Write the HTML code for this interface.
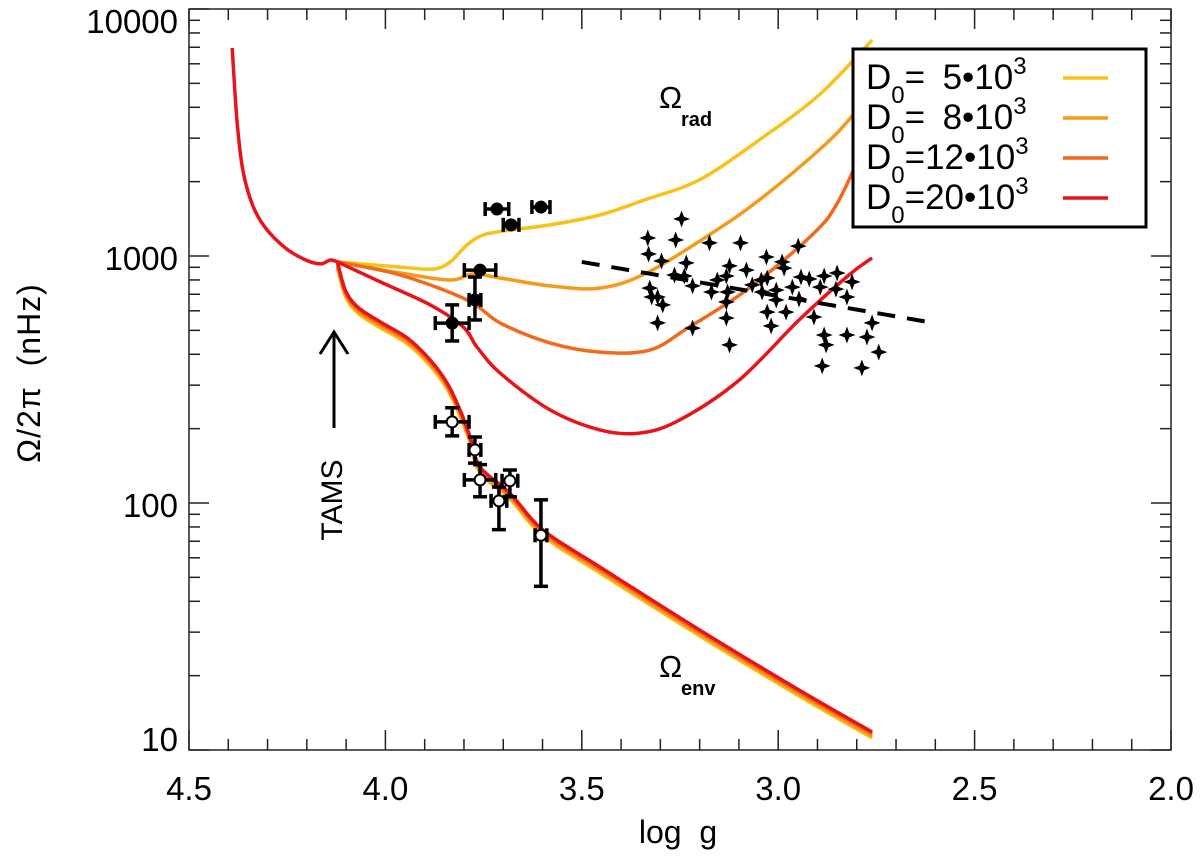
<!DOCTYPE html>
<html><head><meta charset="utf-8"><style>
html,body{margin:0;padding:0;background:#fff;}
svg text{font-family:"Liberation Sans",sans-serif;fill:#000;}
</style></head>
<body>
<svg id="chart" width="1200" height="856" viewBox="0 0 1200 856" xmlns="http://www.w3.org/2000/svg">
<g id="curves"></g>
<g id="points"></g>
<g id="axes"></g>
<text x="40" y="373" font-size="32" text-anchor="middle" letter-spacing="1" style="white-space:pre" transform="rotate(-90 40 373)">Ω/2π  (nHz)</text>
<text x="678" y="843" font-size="32" text-anchor="middle" style="white-space:pre">log  g</text>
<g><text x="659" y="108" font-size="31">Ω</text><text x="681" y="126" font-size="20" font-weight="bold">rad</text></g>
<g><text x="659" y="677" font-size="31">Ω</text><text x="681" y="695" font-size="20" font-weight="bold">env</text></g>
<g>
<line x1="334" y1="428" x2="334" y2="332" stroke="#000" stroke-width="3"/>
<polyline points="320,354 334,332 348,354" fill="none" stroke="#000" stroke-width="3"/>
<text x="342" y="500" font-size="30" text-anchor="middle" transform="rotate(-90 342 500)">TAMS</text>
</g>
<g id="legend">
<rect x="853" y="49" width="293" height="178" fill="#fff" stroke="#000" stroke-width="3"/>
</g>
</svg>
<script>
const NS='http://www.w3.org/2000/svg';
// ---------- data ----------
const xTicksMajor=[4.5,4.0,3.5,3.0,2.5,2.0];
const xTickLabels=['4.5','4.0','3.5','3.0','2.5','2.0'];
const yTicksMajor=[10,100,1000,10000];
const yTickLabels=['10','100','1000','10000'];
const seriesNames=['D0=5e3','D0=8e3','D0=12e3','D0=20e3'];
const seriesColors=['#f5c31a','#f69a1c','#f2691c','#e8141a'];
const legendCoef=['5','8','12','20'];
// common pre-TAMS track (log g, log10 Omega[nHz])
const commonLogg=[4.39,4.378,4.363,4.338,4.305,4.254,4.203,4.165,4.14,4.122];
const commonLogO=[3.842,3.551,3.348,3.206,3.113,3.032,2.984,2.968,2.984,2.976];
// envelope branch
const envLogg=[4.122,4.102,4.071,4.013,3.944,3.886,3.843,3.810,3.784,3.759,3.683,3.599,3.454,3.2,2.947,2.761];
const envLogO=[2.976,2.862,2.794,2.733,2.668,2.579,2.486,2.377,2.267,2.146,2.040,1.891,1.741,1.486,1.243,1.073];
// radiative core branches
const radLogg0=[4.122,3.962,3.878,3.835,3.792,3.751,3.683,3.581,3.454,3.340,3.201,3.048,2.896,2.761];
const radLogO0=[2.976,2.955,2.947,2.976,3.045,3.085,3.105,3.126,3.166,3.227,3.308,3.470,3.652,3.874];
const radLogg1=[4.122,3.962,3.835,3.777,3.708,3.581,3.454,3.335,3.168,3.048,2.896,2.820,2.761];
const radLogO1=[2.976,2.931,2.903,2.927,2.911,2.879,2.870,2.931,3.093,3.227,3.429,3.551,3.680];
const radLogg2=[4.122,3.962,3.792,3.708,3.581,3.454,3.327,3.226,3.081,2.914,2.845,2.761];
const radLogO2=[2.976,2.923,2.822,2.729,2.648,2.611,2.619,2.713,2.862,3.085,3.227,3.518];
const radLogg3=[4.122,4.013,3.886,3.802,3.767,3.708,3.581,3.454,3.353,3.251,3.099,2.947,2.820,2.761];
const radLogO3=[2.976,2.895,2.802,2.713,2.632,2.526,2.377,2.296,2.283,2.336,2.498,2.741,2.923,2.992];
// filled core points: logg, Omega, xerr, Omega low, Omega high
const coreLogg=[3.716,3.680,3.604,3.759,3.830,3.772];
const coreOmega=[1549,1337,1578,877,535,664];
const coreXerr=[0.030,0.020,0.023,0.040,0.043,0.015];
const coreLo=[1549,1337,1578,877,453,551];
const coreHi=[1549,1337,1578,877,634,822];
// open envelope points
const envPtLogg=[3.830,3.772,3.759,3.683,3.711,3.604];
const envPtOmega=[213,164,124,123,102,74];
const envPtXerr=[0.043,0.015,0.040,0.020,0.020,0.015];
const envPtLo=[187,145,106,106,78,46];
const envPtHi=[243,185,143,136,116,103];
// red giant stars
const starLogg=[3.246,3.332,3.261,3.175,3.096,2.949,3.330,3.297,3.234,3.030,2.990,3.124,3.081,2.985,3.264,3.239,3.132,3.028,2.942,2.883,2.850,2.921,3.218,3.155,3.066,3.043,2.964,2.893,2.812,3.327,3.170,3.129,3.005,2.853,3.322,3.307,3.041,3.005,2.947,2.825,3.294,3.132,3.028,2.980,2.909,3.307,3.132,3.218,3.018,2.761,2.883,2.825,2.774,2.878,3.124,2.744,2.888,2.787];
const starLogO=[3.150,3.073,3.065,3.053,3.053,3.040,3.008,2.980,2.972,2.996,2.976,2.960,2.943,2.951,2.923,2.919,2.919,2.911,2.915,2.919,2.931,2.907,2.879,2.903,2.883,2.903,2.874,2.874,2.895,2.870,2.854,2.854,2.862,2.866,2.834,2.834,2.854,2.822,2.826,2.834,2.802,2.814,2.773,2.773,2.753,2.729,2.749,2.708,2.717,2.729,2.680,2.680,2.672,2.640,2.640,2.611,2.555,2.547];
// dashed fit line
const fitLogg=[3.5,2.604];
const fitLogO=[2.976,2.729];

// ---------- axes functions ----------
const X0=189,X1=1171,YB=750,YT=9,DEC=247;
const xs=g=>X0+(4.5-g)/2.5*(X1-X0);
const ysL=l=>YB-(l-1)*DEC;
const ys=v=>ysL(Math.log10(v));
function el(tag,attrs,parent){const e=document.createElementNS(NS,tag);for(const k in attrs)e.setAttribute(k,attrs[k]);parent.appendChild(e);return e;}
const curves=document.getElementById('curves'),pts=document.getElementById('points'),axes=document.getElementById('axes'),legend=document.getElementById('legend');
function smooth(gs,ls){const p=gs.map((g,i)=>[xs(g),ysL(ls[i])]);let d='M'+p[0][0].toFixed(1)+','+p[0][1].toFixed(1);
 for(let i=0;i<p.length-1;i++){const p0=p[i-1]||p[i],p1=p[i],p2=p[i+1],p3=p[i+2]||p2;
 d+=' C'+(p1[0]+(p2[0]-p0[0])/6).toFixed(1)+','+(p1[1]+(p2[1]-p0[1])/6).toFixed(1)+' '+(p2[0]-(p3[0]-p1[0])/6).toFixed(1)+','+(p2[1]-(p3[1]-p1[1])/6).toFixed(1)+' '+p2[0].toFixed(1)+','+p2[1].toFixed(1);}
 return d;}

// curves
const radG=[radLogg0,radLogg1,radLogg2,radLogg3],radL=[radLogO0,radLogO1,radLogO2,radLogO3];
for(let i=0;i<4;i++){
 const pe=el('path',{d:smooth(envLogg,envLogO),fill:'none',stroke:seriesColors[i],'stroke-width':3.5,transform:'translate(0,'+(3-i)*2+')'},curves);
 
 
}
for(let i=0;i<4;i++){
 const pr=el('path',{d:smooth(radG[i],radL[i]),fill:'none',stroke:seriesColors[i],'stroke-width':3.5},curves);
 
 
}
const pc=el('path',{d:smooth(commonLogg,commonLogO),fill:'none',stroke:seriesColors[3],'stroke-width':3.5},curves);



// fit line
const fl=el('line',{x1:xs(fitLogg[0]),y1:ysL(fitLogO[0]),x2:xs(fitLogg[1]),y2:ysL(fitLogO[1]),stroke:'#000','stroke-width':4,'stroke-dasharray':'18,12'},pts);



// stars
for(let i=0;i<starLogg.length;i++){
 const cx=xs(starLogg[i]),cy=ysL(starLogO[i]),r=8.5,s=2.3;
 const st=el('path',{d:`M${cx},${cy-r} L${cx+s},${cy-s} L${cx+r},${cy} L${cx+s},${cy+s} L${cx},${cy+r} L${cx-s},${cy+s} L${cx-r},${cy} L${cx-s},${cy-s} Z`,fill:'#000'},pts);
 
 
}
function errPoint(g,o,xe,lo,hi,filled,name){
 const grp=el('g',{},pts);
 
 
 const cx=xs(g),cy=ys(o),x1=xs(g+xe),x2=xs(g-xe),ya=ys(hi),yb=ys(lo);
 el('line',{x1:x1,y1:cy,x2:x2,y2:cy,stroke:'#000','stroke-width':3.5},grp);
 el('line',{x1:x1,y1:cy-7,x2:x1,y2:cy+7,stroke:'#000','stroke-width':3.5},grp);
 el('line',{x1:x2,y1:cy-7,x2:x2,y2:cy+7,stroke:'#000','stroke-width':3.5},grp);
 if(yb-ya>2){
  el('line',{x1:cx,y1:ya,x2:cx,y2:yb,stroke:'#000','stroke-width':3.5},grp);
  el('line',{x1:cx-7,y1:ya,x2:cx+7,y2:ya,stroke:'#000','stroke-width':3.5},grp);
  el('line',{x1:cx-7,y1:yb,x2:cx+7,y2:yb,stroke:'#000','stroke-width':3.5},grp);
 }
 el('circle',{cx:cx,cy:cy,r:5.5,fill:filled?'#000':'#fff',stroke:'#000','stroke-width':2},grp);
}
for(let i=0;i<coreLogg.length;i++)errPoint(coreLogg[i],coreOmega[i],coreXerr[i],coreLo[i],coreHi[i],true,'core-point');
for(let i=0;i<envPtLogg.length;i++)errPoint(envPtLogg[i],envPtOmega[i],envPtXerr[i],envPtLo[i],envPtHi[i],false,'envelope-point');

// axes frame
const fr=el('rect',{x:X0,y:YT,width:X1-X0,height:YB-YT,fill:'none',stroke:'#222','stroke-width':1.5},axes);


for(let g=45;g>=20;g--){const v=g/10,x=xs(v),maj=(g%5===0),L=maj?20:11;
 el('line',{x1:x,y1:YB,x2:x,y2:YB-L,stroke:'#222','stroke-width':1.5},axes);
 el('line',{x1:x,y1:YT,x2:x,y2:YT+L,stroke:'#222','stroke-width':1.5},axes);}
xTicksMajor.forEach((v,i)=>{const t=el('text',{x:xs(v),y:800,'font-size':33,'text-anchor':'middle'},axes);t.textContent=xTickLabels[i];
 
 });
for(let d=1;d<4;d++)for(let m=1;m<10;m++){const l=d+Math.log10(m),y=ysL(l),L=m===1?20:11;
 el('line',{x1:X0,y1:y,x2:X0+L,y2:y,stroke:'#222','stroke-width':1.5},axes);
 el('line',{x1:X1,y1:y,x2:X1-L,y2:y,stroke:'#222','stroke-width':1.5},axes);}
el('line',{x1:X0,y1:ys(10000),x2:X0+20,y2:ys(10000),stroke:'#222','stroke-width':1.5},axes);
yTicksMajor.forEach((v,i)=>{const yy=Math.min(751,Math.max(33,ys(v)+14));
 const t=el('text',{x:178,y:yy,'font-size':33,'text-anchor':'end'},axes);t.textContent=yTickLabels[i];
 
 });

// legend
for(let i=0;i<4;i++){
 const by=89+i*40;
 const pad=legendCoef[i].length<2;
 const t=el('text',{x:866,y:by,'font-size':35},legend);
 
 
 t.innerHTML='D<tspan dy="14" font-size="24">0</tspan><tspan dy="-14">='+(pad?'\u2002':'')+legendCoef[i]+'•10</tspan><tspan dy="-15" font-size="24">3</tspan>';
 const ln=el('line',{x1:1063,y1:by-11,x2:1108,y2:by-11,stroke:seriesColors[i],'stroke-width':3.5},legend);
 
 
}
</script>
</body></html>
